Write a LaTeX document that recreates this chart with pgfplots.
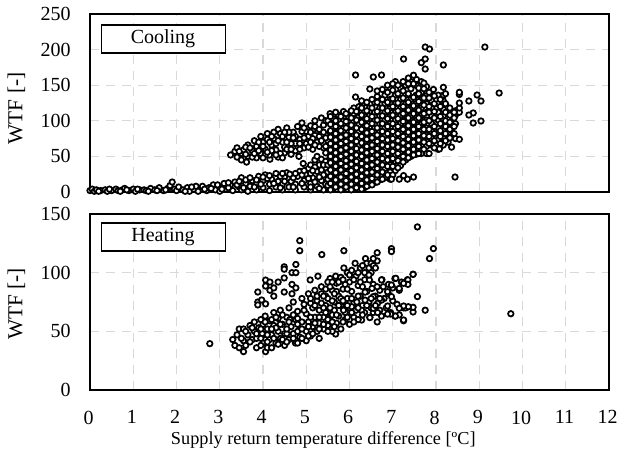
\documentclass[border=0pt]{standalone}
\usepackage{pgfplots}
\usepackage{fontspec}
\setmainfont{Liberation Serif}
\pgfplotsset{compat=1.18}
\definecolor{gr}{RGB}{217,217,217}
\newcommand{\fs}{\fontsize{15}{17}\selectfont}
\pgfplotsset{mk/.style={only marks,mark=*,draw=black,fill=white,mark size=2.05pt,mark options={line width=1.3pt,fill=white,draw=black}},
 base/.style={scale only axis,width=389.25pt,xmin=0,xmax=12,
 xtick={0,1,...,12},grid=major,major grid style={gr,line width=1pt,dash pattern=on 7pt off 5pt},
 axis line style={black,line width=1.05pt},tick style={draw=none},
 /pgf/number format/assume math mode=true,
 tick label style={font=\fs},
 xticklabel style={yshift=-12pt,xshift=-1pt},yticklabel style={xshift=-11pt},clip=false}}
\begin{document}
\begin{tikzpicture}[x=0.75pt,y=0.75pt]
\useasboundingbox (-90,-62) rectangle (531,390);
\begin{axis}[base,at={(0pt,148.5pt)},anchor=south west,height=133.5pt,ymin=0,ymax=250,ytick={0,50,...,250},xticklabels={},ylabel={WTF [-]},ylabel style={font=\fontsize{16}{18}\selectfont,at={(axis description cs:-0.1156,0.47)},anchor=south}]
\addplot[mk] coordinates {
(0,2)(0.05,4)(0.1,1)(0.15,3)(0.25,2)(0.35,3)(0.4,1)(0.5,2)(0.6,4)(0.65,2)(0.75,3)(0.8,5)(0.9,2)(1.0,4)(1.05,1)(1.15,3)(1.25,3)(1.3,2)(1.4,5)(1.5,3)(1.6,6)(1.7,2)(1.8,5)(1.85,9)(1.9,14)(1.95,4)(2.0,2)(2.05,7)(2.15,3)(2.25,6)(2.3,1)(2.4,4)(2.45,8)(2.55,3)(2.6,8)(2.7,2)(2.75,6)(2.85,10)(2.9,3)(3.0,1)(3.0,7)(3.1,12)(3.15,4)(3.25,10)(3.3,2)(3.35,14)(3.45,7)(3.5,3)(3.5,20)(3.6,12)(3.65,1)(3.7,8)(3.75,16)(3.85,3)(3.85,12)(3.9,22)(4.0,6)(4.0,16)(4.05,24)(4.15,2)(4.15,11)(4.2,18)(4.3,26)(4.3,7)(4.35,15)(4.45,3)(4.45,11)(4.5,21)(4.55,27)(4.6,7)(4.65,15)(4.75,3)(4.75,11)(4.8,22)(4.85,29)(4.95,7)(4.95,16)(5.0,25)(5.05,33)(5.1,3)(5.1,12)(5.15,20)(5.25,8)(5.25,29)(5.3,38)(5.35,16)(5.4,24)(5.4,3)(4.83,50)(4.93,40)(5.1,38)(5.2,45)(5.25,50)(5.35,46)(5.45,43)
(3.25,52)(3.35,57)(3.4,49)(3.4,62)(3.5,45)(3.5,54)(3.55,59)(3.65,66)(3.65,50)(3.62,42)(3.75,58)(3.8,72)(3.85,48)(3.85,64)(3.95,54)(3.95,78)(4.0,70)(4.05,60)(4.16,46)(4.1,82)(4.15,52)(4.2,66)(4.25,75)(4.3,59)(4.35,88)(4.35,49)(4.4,82)(4.45,70)(4.5,55)(4.5,63)(4.55,90)(4.6,77)(4.65,53)(4.7,84)(4.75,68)(4.75,58)(4.8,92)(4.85,74)(4.9,97)(4.95,62)(5.0,85)(5.0,68)(5.05,78)(5.1,93)(5.15,60)(5.2,100)(5.25,70)(5.25,86)(5.3,78)(5.35,104)(5.4,62)(5.4,94)(5.45,55)(5.5,72)(5.55,110)(5.55,84)(5.55,48)
(3.6,63)(3.75,49)(3.9,70)(3.95,61)(4.05,52)(4.1,74)(4.2,58)(4.25,84)(4.3,68)(4.4,54)(4.45,78)(4.55,60)(4.6,84)(4.65,68)(4.75,78)(4.85,60)(4.9,85)(5.05,63)(5.15,75)(5.15,86)(5.3,64)(5.4,84)(5.45,76)
(3.45,57)(3.6,53)(3.7,62)(3.8,54)(3.9,58)(4.0,48)(4.0,64)(4.1,56)(4.15,70)(4.2,78)(4.3,52)(4.35,72)(4.45,48)(4.5,84)(4.55,70)(4.65,60)(4.7,76)(4.85,68)(4.95,76)(4.95,90)(5.1,70)(5.1,84)(5.2,66)(5.2,92)(5.3,88)(5.35,72)(5.45,64)(5.45,100)
(0.2,1)(0.45,4)(0.7,1)(0.85,3)(1.1,4)(1.35,1)(1.55,2)(1.75,3)(2.2,1)(2.35,7)(2.5,1)(2.65,4)(2.8,5)(2.95,10)(3.05,4)(3.2,6)(3.4,10)(3.55,6)(3.6,17)(3.8,7)(3.95,11)(4.1,19)(4.25,12)(4.4,6)(4.5,15)(4.7,7)(4.7,20)(4.9,12)(4.9,24)(5.1,7)(5.1,26)(5.2,14)(5.3,5)(5.45,11)(5.45,33)(5.35,31)(5.2,35)
(3.2,13)(3.45,15)(3.7,20)(3.85,17)(4.0,21)(4.15,23)(4.4,22)(4.45,26)(4.62,25)(4.75,26)(4.95,30)(5.05,19)(5.3,21)(5.4,38)(5.15,30)
(5.5,9)(5.5,18)(5.5,28)(5.5,38)(5.5,100)(5.62,5)(5.62,14)(5.62,24)(5.62,33)(5.62,43)(5.62,52)(5.62,61)(5.62,70)(5.62,79)(5.62,90)(5.62,103)
(5.74,9)(5.74,20)(5.74,30)(5.74,38)(5.74,48)(5.74,57)(5.74,66)(5.74,75)(5.74,84)(5.74,95)(5.74,108)
(5.86,5)(5.86,14)(5.86,25)(5.86,34)(5.86,44)(5.86,53)(5.86,62)(5.86,71)(5.86,80)(5.86,90)(5.86,100)(5.86,113)
(5.98,9)(5.98,18)(5.98,29)(5.98,39)(5.98,48)(5.98,57)(5.98,66)(5.98,76)(5.98,85)(5.98,94)(5.98,106)
(6.1,5)(6.1,13)(6.1,24)(6.1,34)(6.1,43)(6.1,52)(6.1,61)(6.1,70)(6.1,80)(6.1,89)(6.1,99)(6.1,110)(6.1,118)
(6.22,8)(6.22,18)(6.22,28)(6.22,38)(6.22,47)(6.22,57)(6.22,66)(6.22,75)(6.22,85)(6.22,95)(6.22,106)(6.22,120)
(6.34,6)(6.34,14)(6.34,24)(6.34,33)(6.34,43)(6.34,52)(6.34,61)(6.34,71)(6.34,80)(6.34,90)(6.34,101)(6.34,112)(6.34,125)
(6.46,10)(6.46,19)(6.46,29)(6.46,38)(6.46,47)(6.46,57)(6.46,66)(6.46,75)(6.46,85)(6.46,96)(6.46,107)(6.46,118)
(6.58,13)(6.58,24)(6.58,33)(6.58,43)(6.58,52)(6.58,61)(6.58,71)(6.58,80)(6.58,90)(6.58,101)(6.58,112)(6.58,126)
(6.7,17)(6.7,28)(6.7,38)(6.7,47)(6.7,57)(6.7,66)(6.7,75)(6.7,85)(6.7,96)(6.7,107)(6.7,118)(6.7,131)
(6.82,20)(6.82,33)(6.82,43)(6.82,52)(6.82,61)(6.82,71)(6.82,80)(6.82,90)(6.82,101)(6.82,112)(6.82,124)(6.82,136)
(6.94,18)(6.94,28)(6.94,38)(6.94,47)(6.94,57)(6.94,66)(6.94,75)(6.94,85)(6.94,96)(6.94,107)(6.94,118)(6.94,130)(6.94,146)
(7.06,30)(7.06,43)(7.06,52)(7.06,61)(7.06,71)(7.06,80)(7.06,90)(7.06,101)(7.06,112)(7.06,124)(7.06,136)(7.06,155)
(7.18,37)(7.18,47)(7.18,57)(7.18,66)(7.18,75)(7.18,85)(7.18,96)(7.18,107)(7.18,118)(7.18,130)(7.18,146)
(7.3,45)(7.3,52)(7.3,61)(7.3,71)(7.3,80)(7.3,90)(7.3,101)(7.3,112)(7.3,124)(7.3,136)(7.3,150)
(7.42,50)(7.42,57)(7.42,66)(7.42,75)(7.42,85)(7.42,96)(7.42,107)(7.42,118)(7.42,130)(7.42,145)(7.42,155)
(7.54,53)(7.54,61)(7.54,71)(7.54,80)(7.54,90)(7.54,101)(7.54,112)(7.54,124)(7.54,136)(7.54,150)
(7.66,54)(7.66,66)(7.66,75)(7.66,85)(7.66,96)(7.66,107)(7.66,118)(7.66,130)(7.66,140)(7.66,155)
(7.78,54)(7.78,64)(7.78,71)(7.78,80)(7.78,90)(7.78,101)(7.78,112)(7.78,124)(7.78,135)(7.78,148)
(7.9,66)(7.9,75)(7.9,85)(7.9,96)(7.9,107)(7.9,118)(7.9,128)(7.94,144)
(8.05,60)(8.05,73)(8.05,82)(8.05,90)(8.05,101)(8.05,112)(8.05,124)(8.05,136)
(8.17,66)(8.17,76)(8.17,86)(8.17,96)(8.17,107)(8.17,116)(8.17,128)(8.17,136)(8.17,147)
(8.28,70)(8.28,82)(8.28,92)(8.28,104)(8.28,112)
(8.36,63)(8.36,78)(8.36,90)(8.36,108)(8.45,75)(8.45,96)(8.45,108)(8.45,114)(8.54,74)(8.54,112)(8.54,118)(8.54,125)(8.54,137)(8.54,140)
(5.56,3)(5.56,12)(5.56,22)(5.56,31)(5.56,41)(5.56,50)(5.56,59)(5.56,68)(5.56,77)(5.56,86)(5.56,95)(5.56,106)
(5.68,7)(5.68,17)(5.68,27)(5.68,36)(5.68,46)(5.68,55)(5.68,64)(5.68,73)(5.68,82)(5.68,92)(5.68,100)(5.68,112)
(5.8,3)(5.8,11)(5.8,21)(5.8,31)(5.8,40)(5.8,50)(5.8,59)(5.8,68)(5.8,77)(5.8,86)(5.8,96)(5.8,106)
(5.92,7)(5.92,16)(5.92,26)(5.92,36)(5.92,44)(5.92,53)(5.92,62)(5.92,71)(5.92,80)(5.92,90)(5.92,99)(5.92,110)
(6.04,3)(6.04,11)(6.04,21)(6.04,30)(6.04,39)(6.04,48)(6.04,57)(6.04,66)(6.04,75)(6.04,85)(6.04,94)(6.04,104)(6.04,114)
(6.16,6)(6.16,16)(6.16,25)(6.16,34)(6.16,43)(6.16,52)(6.16,61)(6.16,71)(6.16,80)(6.16,90)(6.16,101)(6.16,113)
(6.28,4)(6.28,12)(6.28,22)(6.28,31)(6.28,40)(6.28,50)(6.28,59)(6.28,69)(6.28,78)(6.28,88)(6.28,98)(6.28,108)(6.28,118)(6.28,128)
(6.4,8)(6.4,17)(6.4,27)(6.4,36)(6.4,45)(6.4,55)(6.4,64)(6.4,74)(6.4,83)(6.4,93)(6.4,103)(6.4,114)(6.4,126)
(6.52,10)(6.52,19)(6.52,28)(6.52,38)(6.52,47)(6.52,57)(6.52,66)(6.52,76)(6.52,85)(6.52,96)(6.52,106)(6.52,118)(6.52,130)
(6.64,14)(6.64,24)(6.64,33)(6.64,42)(6.64,52)(6.64,61)(6.64,71)(6.64,80)(6.64,90)(6.64,101)(6.64,113)(6.64,126)(6.64,134)
(6.76,18)(6.76,28)(6.76,38)(6.76,47)(6.76,57)(6.76,66)(6.76,75)(6.76,85)(6.76,96)(6.76,107)(6.76,118)(6.76,130)(6.76,144)
(6.88,24)(6.88,36)(6.88,45)(6.88,54)(6.88,64)(6.88,73)(6.88,82)(6.88,92)(6.88,103)(6.88,114)(6.88,126)(6.88,140)(6.88,150)
(7.0,24)(7.0,36)(7.0,47)(7.0,57)(7.0,66)(7.0,75)(7.0,85)(7.0,96)(7.0,108)(7.0,120)(7.0,131)(7.0,143)(7.0,152)
(7.12,34)(7.12,44)(7.12,54)(7.12,63)(7.12,72)(7.12,82)(7.12,92)(7.12,103)(7.12,114)(7.12,125)(7.12,138)(7.12,150)
(7.24,42)(7.24,50)(7.24,60)(7.24,69)(7.24,78)(7.24,88)(7.24,99)(7.24,110)(7.24,120)(7.24,132)(7.24,142)(7.24,155)
(7.36,48)(7.36,56)(7.36,65)(7.36,74)(7.36,84)(7.36,93)(7.36,104)(7.36,115)(7.36,126)(7.36,138)(7.36,152)(7.36,160)
(7.48,52)(7.48,60)(7.48,70)(7.48,79)(7.48,88)(7.48,98)(7.48,110)(7.48,121)(7.48,133)(7.48,152)(7.55,158)(7.48,164)
(7.6,54)(7.6,64)(7.6,73)(7.6,82)(7.6,92)(7.6,104)(7.6,115)(7.6,127)(7.6,138)(7.6,146)
(7.72,60)(7.72,70)(7.72,79)(7.72,88)(7.72,98)(7.72,110)(7.72,122)(7.72,132)(7.72,145)(7.72,153)
(7.84,54)(7.84,68)(7.84,78)(7.84,88)(7.84,100)(7.84,112)(7.84,120)(7.84,132)(7.84,140)
(7.96,62)(7.96,72)(7.96,82)(7.96,92)(7.96,104)(7.96,113)(7.96,124)(7.96,135)
(8.1,68)(8.1,78)(8.1,86)(8.1,96)(8.1,106)(8.1,120)(8.1,130)
(8.22,72)(8.22,82)(8.22,92)(8.22,100)(8.22,112)(8.22,124)(8.22,138)
(8.32,76)(8.32,88)(8.32,98)(8.32,108)(8.32,118)(8.42,82)(8.42,92)(8.42,104)(8.42,112)
(7.75,203.6)(7.85,200.8)(9.13,203.6)(7.25,186.8)(8.17,178.4)(7.66,181.6)(7.75,186.8)(7.75,172.7)(6.14,164.3)(6.55,161.5)(6.74,164.3)(6.47,144.7)(6.64,141.9)(6.14,133.4)(9.46,139)(8.95,136.2)(9.04,127.8)(8.76,127.8)(8.86,111)(8.76,108.1)(9.04,99.7)(8.86,96.9)(8.44,21)(7.48,21)(7.34,18)(7.15,18)(6.97,18)(7.25,23)(8.08,60.4)
};
\end{axis}
\begin{axis}[base,at={(0pt,0pt)},anchor=south west,height=132pt,ymin=0,ymax=150,ytick={0,50,100,150},ylabel={WTF [-]},ylabel style={font=\fontsize{16}{18}\selectfont,at={(axis description cs:-0.1156,0.49)},anchor=south},xlabel={Supply return temperature difference [ºC]},xlabel style={font=\fontsize{13.7}{16}\selectfont,at={(axis description cs:0.4495,-0.208)},anchor=north}]
\addplot[mk] coordinates {
(2.77,39.5)(7.57,139)(7.94,120.5)(7.85,112)(4.85,127.3)(4.85,118.7)(5.36,115.4)(5.87,118.7)(6.97,120.5)(6.97,118)(7.57,79.6)(7.75,68)(7.47,98.6)(5.68,47.7)(3.55,32.7)(4.06,32.7)(9.73,65)(4.49,105)(4.49,103)(4.76,107)(4.67,100)(4.76,100)
(4.06,93.7)(4.16,92)(4.06,88.6)(4.16,85)(4.25,87)(4.35,92)(4.49,95.5)(4.67,90)(4.76,87)(4.49,83.5)(4.67,82)(4.25,80)(3.88,83.5)(3.88,75)(3.97,76.7)(3.88,72.5)(4.06,73.4)
(5.09,93.8)(5.27,97)(5.55,95)(5.68,97)(5.87,104)(6.13,108)(6.37,112)(6.64,117)(6.64,110)(6.28,59.6)(6.47,62)(6.64,58)(6.74,63)(7.05,63)(7.25,59)(7.25,70)(7.47,66.5)(7.47,70.5)(7.34,94)(7.2,92)(7.05,95)(6.9,90)(6.75,94)(7.15,85)(7.3,70)
(3.3,43)(3.35,38)(3.4,47)(3.45,52)(3.45,36)(3.55,42)(3.55,52)(3.6,38)(3.65,47)(3.7,55)(3.75,43)(3.8,50)(3.8,58)(3.85,36)(3.85,44)(3.9,53)(3.95,60)(4.0,40)(4.0,47)(4.0,56)(4.05,63)(4.1,36)(4.1,52)(4.15,43)(4.15,59)(4.2,47)(4.25,66)(4.25,55)(4.3,40)(4.35,50)(4.35,61)(4.4,44)(4.4,68)(4.45,56)(4.5,38)(4.5,48)(4.55,62)(4.6,70)(4.6,43)(4.65,54)(4.7,75)(4.7,48)(4.75,40)(4.75,60)(4.8,67)(4.85,52)(4.85,45)(4.9,78)(4.9,58)(4.95,73)(5.0,42)(5.0,50)(5.0,65)(5.05,58)(5.05,82)(5.1,46)(5.15,70)(5.15,54)(5.2,62)(5.2,85)(5.25,50)(5.25,76)(5.3,44)(5.3,57)(5.3,68)(5.35,88)(5.4,62)(5.4,52)(5.45,80)(5.45,72)(5.5,92)(5.5,55)(5.5,66)(5.55,60)(5.6,85)(5.6,50)(5.65,75)(5.65,68)(5.7,91)(5.7,57)(5.75,80)(5.75,63)(5.8,96)(5.8,52)(5.8,72)(5.85,86)(5.9,60)(5.9,66)(5.95,78)(5.95,100)(6.0,92)(6.0,70)(6.0,56)(6.05,84)(6.1,62)(6.1,74)(6.15,97)(6.15,68)(6.2,89)(6.2,60)(6.25,104)(6.25,80)(6.3,72)(6.35,66)(6.35,94)(6.4,108)(6.4,84)(6.45,75)(6.5,70)(6.5,100)(6.55,90)(6.55,66)(6.6,80)(6.65,74)(6.7,68)(6.7,85)(6.8,78)(6.85,70)(6.9,82)(6.95,66)(7.0,76)(7.0,87)(7.1,73)(7.15,64)
(5.25,80)(5.35,82)(5.45,86)(5.5,78)(5.6,92)(5.7,84)(5.8,78)(5.9,90)(6.0,98)(6.05,102)(6.3,88)(6.45,104)(6.5,108)(6.55,112)(4.2,60)(4.55,48)(4.8,56)(5.1,74)(5.4,70)(5.6,64)(3.98,48)(4.3,53)(4.62,60)
(7.47,98.6)(7.35,93.8)(7.35,90)(7.25,90.9)(7.15,86.6)(7.07,95.2)(6.74,93.8)(6.46,93.8)(6.97,89.5)(7.36,71)(7.25,71.6)(7.25,59.7)(7.15,69.6)(7.06,63)(6.95,64.7)(6.88,64.7)(6.88,71.6)(6.47,61.7)(6.55,69.6)(6.28,68)(6.97,79.6)(6.74,76.6)(6.88,83.8)(6.55,79.6)(6.36,83.4)(6.36,76.6)(6.17,75)(6.05,71)(5.86,68)(6.64,88)(6.52,86.6)(6.78,88)
(3.5,44)(3.6,50)(3.7,41)(3.75,53)(3.85,48)(3.95,38)(3.95,44)(3.95,52)(4.05,58)(4.1,41)(4.1,47)(4.2,36)(4.2,52)(4.25,44)(4.3,62)(4.35,39)(4.4,56)(4.45,43)(4.45,64)(4.55,41)(4.55,52)(4.6,58)(4.7,44)(4.7,64)(4.8,40)(4.8,50)(4.8,61)(4.9,44)(4.9,52)(4.95,68)(5.05,46)(5.05,54)(5.1,62)(5.1,78)(5.15,48)(5.2,57)(5.2,72)(5.3,52)(5.3,62)(5.35,74)(5.4,56)(5.4,80)(5.45,66)(5.5,50)(5.5,60)(5.55,70)(5.55,88)(5.6,58)(5.6,76)(5.65,54)(5.65,82)(5.7,64)(5.75,72)(5.75,92)(5.85,58)(5.85,76)(5.85,94)(5.95,62)(5.95,72)(5.95,86)(6.05,66)(6.05,78)(6.1,94)(6.1,58)(6.2,70)(6.2,80)(6.2,100)(6.25,92)(6.3,64)(6.3,106)(6.35,100)(6.4,72)(6.45,98)(6.5,78)(6.55,106)(6.6,72)(6.6,104)(6.65,66)(6.7,78)
};
\end{axis}
\draw[line width=1pt,fill=white] (11.3,365) rectangle (135.7,337);
\node[font=\fs] at (73,351) {Cooling};
\draw[line width=1pt,fill=white] (11.3,167) rectangle (135.7,139);
\node[font=\fs] at (73,153) {Heating};
\end{tikzpicture}
\end{document}
